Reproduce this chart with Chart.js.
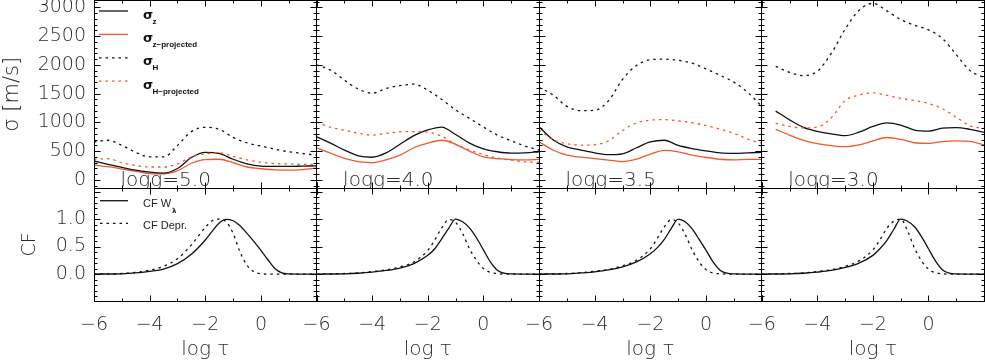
<!DOCTYPE html>
<html><head><meta charset="utf-8">
<script src="https://cdn.jsdelivr.net/npm/chart.js@4"></script>
<style>
html,body{margin:0;padding:0;background:#fff;}
#wrap{position:relative;width:985px;height:362px;overflow:hidden;background:#fff;}
#wrap canvas{position:absolute;left:0;top:0;}
</style></head><body><div id="wrap"></div>
<script>
// ---------------- data ----------------
const tau   = [-6,-5.5,-5,-4.5,-4,-3.5,-3,-2.5,-2,-1.5,-1,-0.5,0,0.5,1,1.5,2];
const tauCF = [-6,-5,-4.5,-4,-3.5,-3,-2.5,-2,-1.75,-1.5,-1.25,-1,-0.75,-0.5,-0.25,0,0.25,0.5,0.75,1,1.5,2];
const loggLabels = ['logg=5.0','logg=4.0','logg=3.5','logg=3.0'];

// sigma [m/s]  logg = 5.0
const sigZ_50  = [330,270,220,170,135,120,200,390,480,460,360,280,240,235,235,240,245];
const sigZp_50 = [260,230,190,150,110,105,160,290,355,360,300,225,195,175,170,180,205];
const sigH_50  = [660,690,600,480,400,400,600,840,915,880,740,645,590,535,490,460,430];
const sigHp_50 = [360,370,300,250,225,225,280,400,455,470,410,350,310,285,275,272,270];
// logg = 4.0
const sigZ_40  = [750,640,520,420,395,470,620,770,870,920,790,640,540,490,465,470,490];
const sigZp_40 = [560,465,375,320,300,350,430,560,640,690,620,500,400,370,355,350,358];
const sigH_40  = [2000,1910,1735,1580,1510,1590,1640,1665,1560,1400,1220,1070,920,780,680,590,520];
const sigHp_40 = [1010,915,865,810,780,810,835,840,830,760,620,520,440,380,345,315,310];
// logg = 3.5
const sigZ_35  = [925,700,575,520,470,440,455,560,660,690,600,545,505,470,462,472,480];
const sigZp_35 = [665,520,430,395,370,345,320,360,450,515,490,430,390,360,350,358,358];
const sigH_35  = [1610,1480,1280,1205,1210,1380,1750,1990,2090,2100,2080,2030,1930,1820,1700,1520,1280];
const sigHp_35 = [870,700,630,605,612,680,860,990,1040,1048,1025,995,945,885,810,710,640];
// logg = 3.0
const sigZ_30  = [null,1197,1045,915,845,800,770,830,930,992,955,867,850,900,910,880,828];
const sigZp_30 = [null,880,780,690,632,598,578,610,680,738,705,647,636,667,680,670,607];
const sigH_30  = [null,1975,1870,1815,1890,2200,2620,2950,3070,2940,2790,2690,2610,2460,2180,1900,1780];
const sigHp_30 = [null,983,930,905,920,1080,1380,1475,1515,1470,1420,1380,1330,1240,1090,940,896];

// contribution functions
const cfW_50 = [0,0.005,0.02,0.05,0.09,0.19,0.36,0.62,0.78,0.93,0.995,0.97,0.88,0.74,0.59,0.43,0.26,0.1,0.02,0.003,0,0];
const cfD_50 = [0,0.01,0.03,0.07,0.14,0.28,0.53,0.85,0.97,1.0,0.95,0.74,0.4,0.16,0.04,0.005,0,0,0,0,0,0];
const cfW_40 = [0,0.005,0.015,0.035,0.065,0.11,0.19,0.34,0.46,0.64,0.83,1.0,0.95,0.84,0.66,0.44,0.22,0.07,0.015,0.003,0,0];
const cfD_40 = [0,0.01,0.02,0.045,0.075,0.13,0.22,0.43,0.62,0.84,0.99,0.94,0.74,0.46,0.25,0.1,0.03,0.01,0,0,0,0];
const cfW_35 = [0,0.005,0.02,0.04,0.075,0.13,0.22,0.37,0.48,0.63,0.83,1.0,0.95,0.82,0.63,0.43,0.22,0.07,0.015,0.003,0,0];
const cfD_35 = [0,0.01,0.025,0.05,0.085,0.15,0.25,0.46,0.65,0.86,0.99,0.93,0.72,0.44,0.22,0.08,0.02,0.005,0,0,0,0];
const cfW_30 = [0,0.005,0.015,0.035,0.065,0.12,0.2,0.34,0.46,0.61,0.81,1.0,0.96,0.86,0.68,0.46,0.24,0.08,0.015,0.003,0,0];
const cfD_30 = [0,0.01,0.02,0.045,0.08,0.14,0.24,0.44,0.62,0.83,0.96,1.0,0.78,0.47,0.24,0.09,0.025,0.005,0,0,0,0];

// ticks / labels
const xTickVals   = [-6,-4,-2,0];
const xTickLabels = ['\u22126','\u22124','\u22122','0'];
const sigTickVals = [0,500,1000,1500,2000,2500,3000];
const cfTickVals  = [0,0.5,1.0];
const cfTickLabels= ['0.0','0.5','1.0'];
const sigLegendSubs = ['z','z\u2212projected','H','H\u2212projected'];
const cfLegendTexts = ['CF W','CF Depr.'];

// ---------------- style ----------------
const W=985, H=362;
const colL=[94,316.6,539,761.8], colR=[316.6,539,761.8,984];
const TOP={T:0.5,B:188}, BOT={T:188,B:301};
const BLACK='#111', ORANGE='#F0592B', TXT='#2b2b2b';
const FONT="'DejaVu Sans', sans-serif";
const DOT=[2.5,4];

const sigSets=[[sigZ_50,sigZp_50,sigH_50,sigHp_50],[sigZ_40,sigZp_40,sigH_40,sigHp_40],
               [sigZ_35,sigZp_35,sigH_35,sigHp_35],[sigZ_30,sigZp_30,sigH_30,sigHp_30]];
const cfSets=[[cfW_50,cfD_50],[cfW_40,cfD_40],[cfW_35,cfD_35],[cfW_30,cfD_30]];

function pts(xs,ys){return xs.map((x,i)=>({x:x,y:ys[i]}));}
function ds(xs,ys,color,dash){
  return {data:pts(xs,ys),borderColor:color,borderWidth:1.3,borderDash:dash,pointRadius:0,
          fill:false,cubicInterpolationMode:'monotone',spanGaps:false};
}

const deco={
  id:'deco',
  afterDatasetsDraw(chart,args,o){
    const ctx=chart.ctx, a=chart.chartArea, xs=chart.scales.x, ys=chart.scales.y;
    ctx.save();
    if(o.logg){
      ctx.save();ctx.beginPath();ctx.rect(a.left,a.top,a.right-a.left,a.bottom-a.top);ctx.clip();
      ctx.fillStyle=TXT;ctx.font="300 20px "+FONT;ctx.textBaseline='alphabetic';ctx.textAlign='left';
      ctx.fillText(o.logg,a.left+26.5,a.bottom-2.5);ctx.restore();
    }
    const L=Math.floor(a.left)+.5,R=Math.floor(a.right)+.5,T=Math.floor(a.top)+.5,B=Math.floor(a.bottom)+.5;
    ctx.strokeStyle='#000';ctx.lineWidth=1;ctx.setLineDash([]);
    ctx.strokeRect(L,T,R-L,B-T);
    ctx.beginPath();
    const k0=Math.ceil(ys.min/o.yMinor-1e-9), k1=Math.floor(ys.max/o.yMinor+1e-9);
    for(let k=k0;k<=k1;k++){
      const p=Math.round(ys.getPixelForValue(k*o.yMinor))+.5;
      const len=(k%o.yPer===0)?6:3;
      ctx.moveTo(L,p);ctx.lineTo(L+len,p);ctx.moveTo(R,p);ctx.lineTo(R-len,p);
    }
    const j0=Math.ceil(xs.min/o.xMinor-1e-9), j1=Math.floor(xs.max/o.xMinor+1e-9);
    for(let j=j0;j<=j1;j++){
      const p=Math.round(xs.getPixelForValue(j*o.xMinor))+.5;
      const len=(j%o.xPer===0)?6:3;
      ctx.moveTo(p,B);ctx.lineTo(p,B-len);ctx.moveTo(p,T);ctx.lineTo(p,T+len);
    }
    ctx.stroke();
    if(o.sigLegend){
      const cols=[BLACK,ORANGE,BLACK,ORANGE], dashes=[[],[],DOT,DOT];
      sigLegendSubs.forEach((sub,i)=>{
        const yl=11+i*23.4;
        ctx.strokeStyle=cols[i];ctx.lineWidth=1.3;ctx.setLineDash(dashes[i]);
        ctx.beginPath();ctx.moveTo(99,yl);ctx.lineTo(128,yl);ctx.stroke();ctx.setLineDash([]);
        ctx.fillStyle='#111';ctx.textAlign='left';ctx.textBaseline='alphabetic';
        ctx.font="bold 13px "+FONT;ctx.fillText('\u03c3',143,yl+7.5);
        ctx.font="bold 8px 'Liberation Sans', sans-serif";ctx.fillText(sub,152.5,yl+12.5);
      });
    }
    if(o.cfLegend){
      const rows=[200.7,223.3], dashes=[[],DOT];
      cfLegendTexts.forEach((t,i)=>{
        const yl=rows[i];
        ctx.strokeStyle=BLACK;ctx.lineWidth=1.3;ctx.setLineDash(dashes[i]);
        ctx.beginPath();ctx.moveTo(100,yl);ctx.lineTo(128,yl);ctx.stroke();ctx.setLineDash([]);
        ctx.fillStyle='#222';ctx.textAlign='left';ctx.textBaseline='alphabetic';
        ctx.font="11px 'Liberation Sans', sans-serif";ctx.fillText(t,143,yl+6);
        if(i===0){const w=ctx.measureText(t).width;ctx.font="bold 7px "+FONT;ctx.fillText('\u03bb',143+w+1,yl+12);}
      });
    }
    ctx.restore();
  }
};

const wrap=document.getElementById('wrap');
function panel(o){
  const cv=document.createElement('canvas');
  cv.width=W;cv.height=H;cv.style.width=W+'px';cv.style.height=H+'px';
  wrap.appendChild(cv);
  const wy=o.showY?o.L:0, hx=o.showX?(H-o.B):0;
  const tickFont={family:FONT,size:19,weight:'300',lineHeight:1.2};
  new Chart(cv,{
    type:'line',
    data:{datasets:o.datasets},
    options:{
      responsive:false,animation:false,devicePixelRatio:1,
      layout:{autoPadding:false,padding:{left:o.L-wy,right:W-o.R,top:o.T,bottom:H-o.B-hx}},
      plugins:{legend:{display:false},tooltip:{enabled:false},deco:o.deco},
      scales:{
        x:{type:'linear',min:-6,max:2,
           afterFit:s=>{s.height=hx;s.paddingLeft=0;s.paddingRight=0;s.paddingTop=0;s.paddingBottom=0;},
           afterBuildTicks:s=>{s.ticks=xTickVals.map(v=>({value:v}));},
           grid:{display:false,drawTicks:false},border:{display:false},
           ticks:{display:o.showX,padding:13,color:TXT,font:tickFont,maxRotation:0,autoSkip:false,
                  callback:(v,i)=>xTickLabels[i]},
           title:{display:o.showX,text:'log \u03c4',color:TXT,padding:{top:0,bottom:0},
                  font:{family:FONT,size:20,weight:'300',lineHeight:1.2}}},
        y:{type:'linear',min:o.yMin,max:o.yMax,
           afterFit:s=>{s.width=wy;s.paddingTop=0;s.paddingBottom=0;s.paddingLeft=0;s.paddingRight=0;},
           afterBuildTicks:s=>{s.ticks=o.yTicks.map(v=>({value:v}));},
           grid:{display:false,drawTicks:false},border:{display:false},
           ticks:{display:o.showY,padding:8,color:TXT,font:tickFont,autoSkip:false,
                  callback:(v,i)=>o.yLabels[i]},
           title:{display:o.showY,text:o.yTitle,color:TXT,padding:{top:o.yTitlePad,bottom:0},
                  font:{family:FONT,size:o.yTitleSize,weight:'300',lineHeight:1.2}}}
      }
    },
    plugins:[deco]
  });
}

for(let c=0;c<4;c++){
  const s=sigSets[c];
  panel({L:colL[c],R:colR[c],T:TOP.T,B:TOP.B,showX:false,showY:c===0,
    yMin:-140,yMax:3120,yTicks:sigTickVals,yLabels:sigTickVals.map(String),
    yTitle:'\u03c3 [m/s]',yTitleSize:21,yTitlePad:0,
    datasets:[ds(tau,s[2],BLACK,DOT),ds(tau,s[3],ORANGE,DOT),ds(tau,s[0],BLACK,[]),ds(tau,s[1],ORANGE,[])],
    deco:{logg:loggLabels[c],yMinor:100,yPer:5,xMinor:1,xPer:2,sigLegend:c===0}});
  const f=cfSets[c];
  panel({L:colL[c],R:colR[c],T:BOT.T,B:BOT.B,showX:true,showY:c===0,
    yMin:-0.49,yMax:1.565,yTicks:cfTickVals,yLabels:cfTickLabels,
    yTitle:'CF',yTitleSize:19,yTitlePad:18.5,
    datasets:[ds(tauCF,f[1],BLACK,DOT),ds(tauCF,f[0],BLACK,[])],
    deco:{yMinor:0.1,yPer:5,xMinor:1,xPer:2,cfLegend:c===0}});
}
</script></body></html>
